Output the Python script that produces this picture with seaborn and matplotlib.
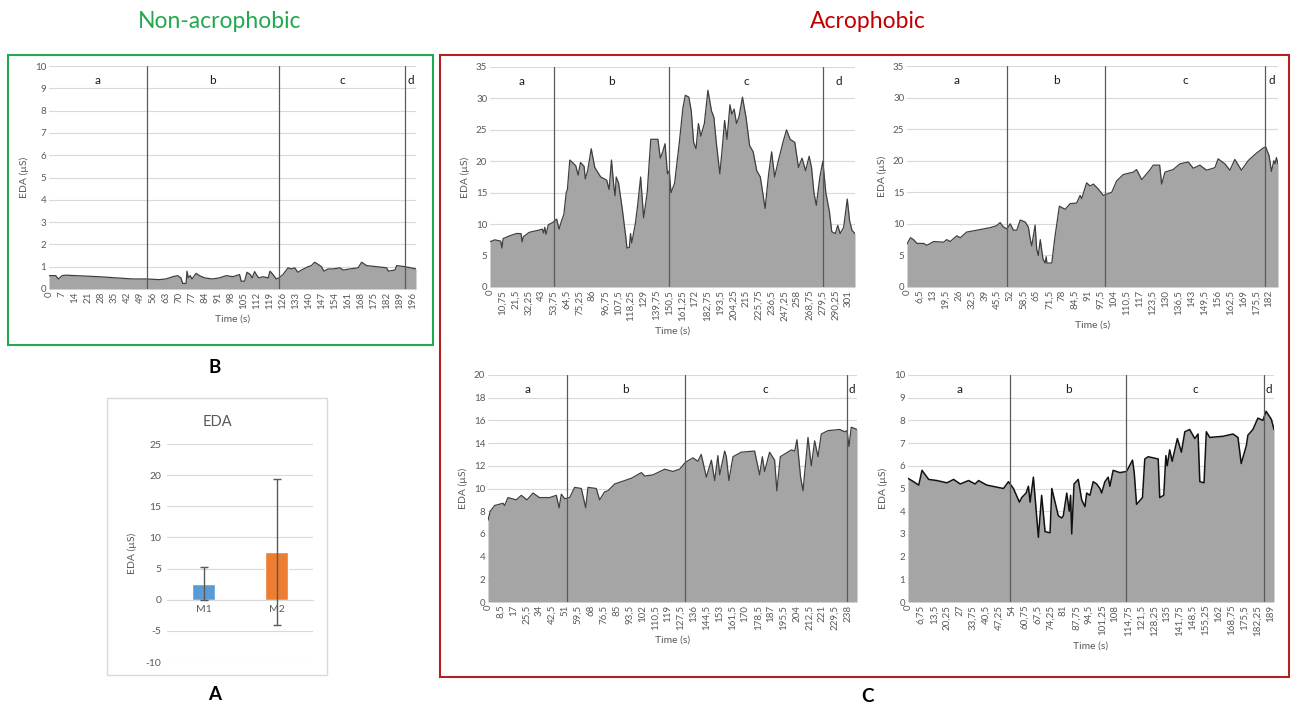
import numpy as np
import pandas as pd
import matplotlib
matplotlib.use("Agg")
import matplotlib.pyplot as plt
import seaborn as sns
from matplotlib.patches import Rectangle

W, H = 1291, 707

# ---------------- data ----------------
# B: non-acrophobic participant
b_time = [0, 3.6, 5, 7.2, 9, 27, 36, 45, 52.5, 59.4, 63, 66.6, 69.3, 71, 72, 73.8, 74.3, 75, 76, 77,
          79.2, 81, 83.7, 88, 91.8, 95.4, 99, 102.6, 103.5, 105.3, 106.6, 108.4, 109.4, 110.7, 112, 113,
          115.2, 118, 119, 120.6, 122.4, 123.8, 126, 128.7, 130.5, 132.3, 134, 135.9, 139.5, 141.3, 143,
          145, 146.7, 148, 150.3, 153, 156.6, 158.4, 162, 166.5, 168.3, 171, 176.4, 181.8, 182.7, 186.3,
          187.2, 191.7, 197.6]
b_eda = [0.6, 0.6, 0.45, 0.6, 0.62, 0.55, 0.5, 0.45, 0.45, 0.42, 0.45, 0.55, 0.6, 0.5, 0.25, 0.25, 0.8,
         0.5, 0.6, 0.45, 0.7, 0.6, 0.5, 0.45, 0.5, 0.6, 0.55, 0.65, 0.35, 0.35, 0.75, 0.65, 0.5, 0.78,
         0.6, 0.5, 0.55, 0.5, 0.8, 0.65, 0.45, 0.5, 0.65, 0.95, 0.9, 0.95, 0.75, 0.85, 1.0, 1.05, 1.2,
         1.1, 1.0, 0.8, 0.9, 0.9, 0.95, 0.85, 0.9, 0.95, 1.2, 1.05, 1.0, 0.95, 0.8, 0.85, 1.05, 1.0, 0.9]
b_phases = [52.5, 123.8, 191.6]
b_tick_step = 7

# C1: acrophobic participant 1
c1_time = [0, 4, 9, 10, 11, 16, 22, 26, 27, 28, 33, 40, 44, 45, 46, 47, 49, 53, 56, 58, 60, 62, 64, 65,
           67, 72, 74, 76, 79, 80, 82, 85, 88, 93, 98, 100, 102, 104, 105, 106, 108, 111, 114, 115, 117,
           118, 119, 122, 124, 126.5, 129, 132, 135, 141, 143, 145, 147, 149, 150.5, 152, 155, 159, 162,
           164, 167, 169, 171, 173, 175, 177, 180, 183, 186, 188, 190, 193, 195, 197, 199, 201.5, 203,
           205, 207, 209, 212, 215, 218, 221, 224, 227, 231, 234, 236.5, 239, 242, 246, 249, 252, 256,
           259, 262, 265, 268, 270, 272, 274, 277, 279.5, 282, 285, 287, 290, 292, 294, 297, 300, 302,
           304, 306.5]
c1_eda = [7.2, 7.5, 7.3, 6.2, 7.7, 8.1, 8.5, 8.5, 7.2, 8.0, 8.7, 9.0, 9.2, 8.6, 9.5, 8.4, 9.9, 10.3,
          10.8, 9.2, 10.5, 11.5, 15.0, 15.5, 20.2, 19.3, 17.8, 19.8, 19.2, 17.2, 18.5, 22.0, 19.0, 17.5,
          17.0, 15.5, 20.2, 16.0, 14.5, 17.5, 16.5, 12.5, 8.0, 6.2, 6.3, 8.5, 7.0, 10.0, 13.0, 17.5, 11.0,
          15.0, 23.5, 23.5, 20.5, 21.5, 22.8, 18.0, 18.5, 15.0, 16.5, 23.0, 28.5, 30.5, 30.2, 28.0, 23.0,
          22.0, 26.0, 24.0, 26.0, 31.3, 28.0, 27.0, 23.0, 18.0, 22.0, 26.5, 23.5, 29.0, 27.5, 28.3, 26.0,
          27.0, 30.2, 27.0, 22.5, 21.5, 18.5, 17.5, 12.5, 18.0, 21.5, 17.5, 20.0, 23.0, 25.0, 23.5, 23.0,
          19.0, 20.5, 18.5, 20.8, 19.0, 15.0, 13.0, 17.5, 20.0, 15.0, 12.0, 8.8, 8.5, 9.8, 8.5, 9.5, 14.0,
          10.5, 9.0, 8.5]
c1_phases = [53.75, 150.5, 279.5]
c1_tick_step = 10.75

# C2: acrophobic participant 2
c2_time = [0, 1.7, 3.3, 5, 8.4, 10, 13.4, 18.4, 20, 21.7, 25, 26.8, 30, 33.5, 38.5, 41.8, 45, 46.8,
           48.5, 50.2, 51.9, 53.5, 55.2, 56.9, 59.4, 61, 62, 62.7, 64.4, 65.2, 66, 67, 68.3, 69.4, 70,
           70.3, 72.8, 74.4, 76.6, 79.5, 82, 85.3, 87, 87.8, 89, 90.3, 92, 93.7, 96.2, 98.7, 100.4,
           102.9, 105.4, 108.7, 113.8, 115.4, 118, 122, 123.8, 127, 128, 129.7, 133.8, 137.2, 141.4,
           143.9, 147.2, 150.6, 154.8, 156.4, 159.8, 162.3, 164.8, 168.1, 171.5, 173.2, 175.7, 179,
           180.3, 182, 183.2, 184.4, 185, 185.7, 186.5]
c2_eda = [6.8, 7.8, 7.5, 6.9, 6.9, 6.6, 7.2, 7.1, 7.5, 7.2, 8.1, 7.8, 8.7, 8.9, 9.2, 9.4, 9.7, 10.2,
          9.5, 9.2, 10.0, 9.0, 9.0, 10.6, 10.3, 9.5, 7.5, 6.5, 9.8, 6.0, 5.0, 7.5, 4.5, 3.8, 4.8, 3.8,
          3.8, 8.0, 12.8, 12.3, 13.2, 13.3, 14.5, 14.0, 15.2, 16.5, 16.0, 16.3, 15.5, 14.5, 14.7, 15.0,
          16.8, 17.8, 18.2, 18.6, 17.0, 18.5, 19.3, 19.3, 16.3, 18.2, 18.6, 19.5, 19.8, 18.8, 19.3, 18.5,
          18.9, 20.3, 19.5, 18.5, 20.2, 18.5, 20.0, 20.5, 21.2, 22.0, 22.2, 20.8, 18.3, 20.0, 19.5,
          20.5, 19.5]
c2_phases = [50.2, 99.7, 179.8]
c2_tick_step = 6.5

# C3: acrophobic participant 3
c3_time = [0, 1.5, 4.4, 9.9, 11, 13.2, 18.7, 22, 25.8, 29.8, 34, 40.8, 45.2, 47, 48.5, 50.7, 54, 57.3,
           61.7, 64.6, 66.1, 71.6, 73.8, 77.1, 79.3, 83.8, 90.4, 94.8, 101.4, 103.6, 109.1, 116.8, 122.3,
           126.7, 130.5, 135.5, 138.8, 141, 144.4, 147.7, 149.9, 152, 153.2, 156.5, 157.6, 159.3, 162,
           167.5, 176.3, 179.6, 181.4, 182.9, 186.2, 189.5, 191, 193.3, 200.6, 202.8, 204.3, 206.7,
           208.3, 211.6, 213.8, 216, 218.2, 220.4, 224.8, 232.5, 235.8, 237.4, 238.7, 240.2, 244]
c3_eda = [7.2, 8.0, 8.5, 8.7, 8.5, 9.2, 9.0, 9.4, 9.0, 9.6, 9.2, 9.2, 9.4, 8.3, 9.5, 9.1, 9.2, 10.1,
          10.0, 8.3, 10.1, 10.0, 9.0, 9.7, 9.8, 10.4, 10.7, 10.9, 11.4, 11.1, 11.2, 11.7, 11.5, 11.7,
          12.3, 12.7, 12.4, 13.0, 11.0, 12.5, 10.7, 12.9, 11.2, 13.3, 12.8, 10.7, 12.8, 13.2, 13.3, 11.2,
          12.8, 11.5, 13.2, 12.5, 9.8, 12.8, 13.4, 13.3, 14.3, 11.0, 9.8, 14.5, 12.0, 14.2, 12.8, 14.8,
          15.1, 15.2, 15.0, 15.1, 13.7, 15.4, 15.2]
c3_phases = [52.4, 130.0, 237.4]
c3_tick_step = 8.5

# C4: acrophobic participant 4
c4_time = [0, 2.9, 5.6, 7.3, 10.8, 15.1, 20.3, 23.8, 27.2, 31.6, 35, 36.8, 41.1, 49.8, 52.4, 55, 58.1,
           59.3, 61.6, 62.8, 63.7, 65.4, 66.3, 68, 69.7, 71.5, 74.1, 75, 78.4, 80.2, 81, 82.8, 84.1,
           84.8, 85.4, 86.6, 88.8, 90.6, 92.3, 93.2, 94.9, 96.6, 98.4, 100.1, 101, 102.7, 104.4, 105.3,
           107, 110.5, 114, 117.1, 118, 119.2, 122.3, 123.5, 125.3, 130.5, 131.3, 133.4, 134.5, 135.2,
           136.5, 137.8, 140.5, 142.6, 144.4, 146.9, 149.6, 151.3, 152.2, 154.4, 155.6, 157.4, 164.3,
           169.5, 172.1, 173.8, 176.5, 177.3, 179.9, 182.5, 185.1, 186.8, 189.5, 190.9]
c4_eda = [5.45, 5.3, 5.15, 5.8, 5.4, 5.35, 5.25, 5.4, 5.2, 5.35, 5.2, 5.35, 5.15, 5.0, 5.3, 5.0, 4.4,
          4.6, 4.8, 5.1, 4.4, 5.5, 4.6, 2.85, 4.7, 3.1, 3.05, 5.0, 3.8, 3.7, 3.8, 4.8, 4.0, 4.7, 3.0,
          5.2, 5.4, 4.5, 4.2, 4.8, 4.7, 5.3, 5.2, 5.0, 4.8, 5.3, 5.5, 5.1, 5.8, 5.7, 5.75, 6.25, 5.7,
          4.3, 4.6, 6.3, 6.4, 6.3, 4.6, 4.7, 6.45, 6.0, 6.7, 6.2, 7.2, 6.6, 7.5, 7.6, 7.2, 7.4, 5.3,
          5.25, 7.5, 7.25, 7.3, 7.4, 7.25, 6.1, 6.9, 7.35, 7.6, 8.1, 8.0, 8.4, 8.05, 7.6]
c4_phases = [53.4, 113.7, 185.7]
c4_tick_step = 6.75

# A: group means with standard deviation
a_groups = ["M1", "M2"]
a_means = [2.6, 7.7]
a_sd = [2.7, 11.7]
a_colors = ["#5b9bd5", "#ed7d31"]

phase_names = ["a", "b", "c", "d"]

# ---------------- style ----------------
sns.set_theme(style="white")
plt.rcParams["font.family"] = ["Lato", "DejaVu Sans"]
plt.rcParams["axes.unicode_minus"] = False
grey_txt = "#595959"


def px_axes(fig, x0, y0, x1, y1):
    return fig.add_axes([x0 / W, 1 - y1 / H, (x1 - x0) / W, (y1 - y0) / H])


def fmt(v):
    return f"{v:g}".replace(".", ",")


def eda_panel(ax, t, v, phases, step, ymax, ystep, lc="#3f3f3f", lw=0.9):
    df = pd.DataFrame({"t": t, "v": v})
    t_end = t[-1]
    ax.fill_between(df.t, df.v, 0, color="#a5a5a5", lw=0, zorder=1)
    sns.lineplot(data=df, x="t", y="v", ax=ax, color=lc, lw=lw, zorder=2)
    ax.set_xlim(0, t_end)
    ax.set_ylim(0, ymax)
    yt = np.arange(0, ymax + ystep / 2, ystep)
    ax.set_yticks(yt)
    ax.set_yticklabels([fmt(y) for y in yt])
    xt = np.arange(0, 29) * step
    ax.set_xticks(xt)
    ax.set_xticklabels([fmt(x) for x in xt], rotation=90)
    ax.grid(axis="y", color="#d9d9d9", lw=0.8)
    ax.grid(axis="x", visible=False)
    ax.set_axisbelow(True)
    for s in ax.spines.values():
        s.set_visible(False)
    ax.tick_params(length=0, labelsize=7, colors=grey_txt, pad=2)
    for p in phases:
        ax.axvline(p, color="#5a5a5a", lw=0.9, zorder=3)
    bounds = [0] + phases + [t_end]
    for i, name in enumerate(phase_names):
        ax.text((bounds[i] + bounds[i + 1]) / 2, ymax * 0.935, name, ha="center", va="center",
                fontsize=8.5, color="#1a1a1a")
    ax.set_xlabel("Time (s)", fontsize=7.5, color=grey_txt, labelpad=4)
    ax.set_ylabel("EDA (µS)", fontsize=7.5, color=grey_txt, labelpad=4)


fig = plt.figure(figsize=(W / 100, H / 100), dpi=100)

# frames
fig.patches.append(Rectangle((8 / W, 1 - 345 / H), 425 / W, 290 / H, transform=fig.transFigure,
                             fill=False, ec="#22a94f", lw=1.5))
fig.patches.append(Rectangle((440 / W, 1 - 677 / H), 849 / W, 622 / H, transform=fig.transFigure,
                             fill=False, ec="#b22222", lw=1.5))
fig.patches.append(Rectangle((107 / W, 1 - 675 / H), 220 / W, 277 / H, transform=fig.transFigure,
                             fill=False, ec="#d9d9d9", lw=1.0))

fig.text(220 / W, 1 - 21 / H, "Non-acrophobic", color="#22a94f", fontsize=16.5, ha="center", va="center")
fig.text(868 / W, 1 - 21 / H, "Acrophobic", color="#c00000", fontsize=16.5, ha="center", va="center")
fig.text(215 / W, 1 - 367 / H, "B", fontsize=13.5, weight="bold", ha="center", va="center", color="black")
fig.text(215 / W, 1 - 695 / H, "A", fontsize=13.5, weight="bold", ha="center", va="center", color="black")
fig.text(868 / W, 1 - 697 / H, "C", fontsize=13.5, weight="bold", ha="center", va="center", color="black")

# panel B
axb = px_axes(fig, 49, 66, 416, 289)
eda_panel(axb, b_time, b_eda, b_phases, b_tick_step, 10, 1)

# panels C
ax1 = px_axes(fig, 490, 67, 855, 287)
eda_panel(ax1, c1_time, c1_eda, c1_phases, c1_tick_step, 35, 5)
ax2 = px_axes(fig, 907, 66, 1278, 287)
eda_panel(ax2, c2_time, c2_eda, c2_phases, c2_tick_step, 35, 5)
ax3 = px_axes(fig, 488, 375, 857, 602)
eda_panel(ax3, c3_time, c3_eda, c3_phases, c3_tick_step, 20, 2)
ax4 = px_axes(fig, 908, 375, 1274, 602)
eda_panel(ax4, c4_time, c4_eda, c4_phases, c4_tick_step, 10, 1, lc="#111111", lw=1.1)

# panel A: bar chart
axa = px_axes(fig, 167, 444, 313, 662)
dfa = pd.DataFrame({"group": a_groups, "mean": a_means})
sns.barplot(data=dfa, x="group", y="mean", hue="group", palette=a_colors, width=0.31,
            saturation=1, errorbar=None, legend=False, ax=axa, zorder=2)
axa.errorbar(range(len(a_groups)), a_means, yerr=a_sd, fmt="none", ecolor="#595959",
             elinewidth=1.0, capsize=3, capthick=1.0, zorder=3)
axa.set_xlim(-0.5, 1.5)
axa.set_ylim(-10, 25)
axa.set_yticks(np.arange(-10, 26, 5))
axa.grid(axis="y", color="#d9d9d9", lw=0.8)
axa.set_axisbelow(True)
for s in ["top", "right", "left"]:
    axa.spines[s].set_visible(False)
axa.spines["bottom"].set_position(("data", 0))
axa.spines["bottom"].set_color("#d9d9d9")
axa.spines["bottom"].set_linewidth(0.8)
axa.tick_params(length=0, labelsize=7.5, colors=grey_txt, pad=4)
axa.set_xlabel("")
axa.set_ylabel("EDA (µS)", fontsize=7.5, color=grey_txt, labelpad=6)
fig.text(217 / W, 1 - 422 / H, "EDA", fontsize=10.5, color=grey_txt, ha="center", va="center")

fig.savefig("out.png", dpi=100)
